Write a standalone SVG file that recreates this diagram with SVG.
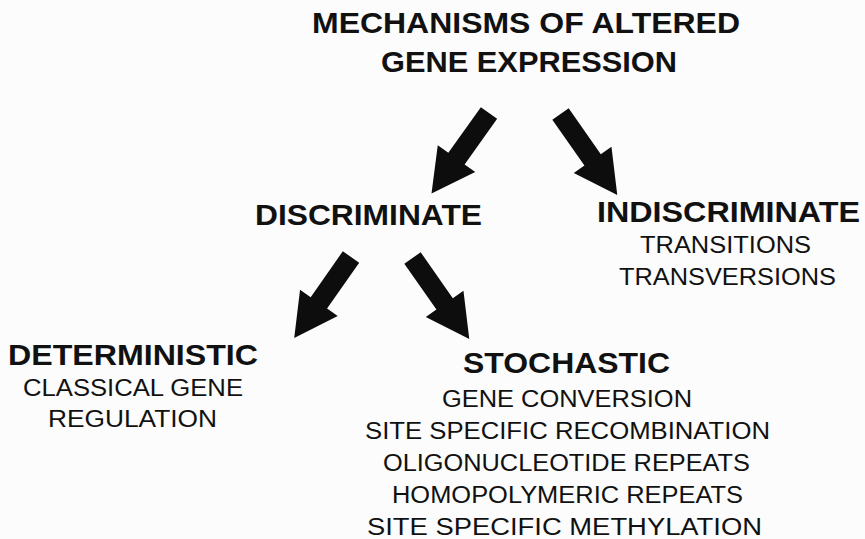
<svg xmlns="http://www.w3.org/2000/svg" xmlns:xlink="http://www.w3.org/1999/xlink" width="865" height="539" viewBox="0 0 865 539">
  <style>
    .h { font-family: "Liberation Sans", Arial, Helvetica, sans-serif; font-weight: bold; font-size: 30px; fill: #111; }
    .t { font-family: "Liberation Sans", Arial, Helvetica, sans-serif; font-size: 23.5px; fill: #111; }
    .arrow { fill: #0d0d0d; }
  </style>
  <defs>
    <!-- block arrow pointing along +x, origin at the middle of the shaft tail -->
    <path id="blockArrow" d="M0,-10 L56,-10 L56,-23 L99,0 L56,23 L56,10 L0,10 Z"/>
  </defs>
  <rect width="865" height="539" fill="#fcfcfc"/>

  <g id="title">
    <text class="h" x="312" y="33" textLength="428" lengthAdjust="spacingAndGlyphs">MECHANISMS OF ALTERED</text>
    <text class="h" x="381" y="72" textLength="296" lengthAdjust="spacingAndGlyphs">GENE EXPRESSION</text>
  </g>

  <g id="discriminate">
    <text class="h" x="255" y="225" textLength="227" lengthAdjust="spacingAndGlyphs">DISCRIMINATE</text>
  </g>

  <g id="indiscriminate">
    <text class="h" x="597" y="222" textLength="263" lengthAdjust="spacingAndGlyphs">INDISCRIMINATE</text>
    <text class="t" x="640" y="253" textLength="171" lengthAdjust="spacingAndGlyphs">TRANSITIONS</text>
    <text class="t" x="619" y="285" textLength="217" lengthAdjust="spacingAndGlyphs">TRANSVERSIONS</text>
  </g>

  <g id="deterministic">
    <text class="h" x="8" y="365" textLength="250" lengthAdjust="spacingAndGlyphs">DETERMINISTIC</text>
    <text class="t" x="23" y="396" textLength="220" lengthAdjust="spacingAndGlyphs">CLASSICAL GENE</text>
    <text class="t" x="48" y="427" textLength="169" lengthAdjust="spacingAndGlyphs">REGULATION</text>
  </g>

  <g id="stochastic">
    <text class="h" x="463" y="373" textLength="207" lengthAdjust="spacingAndGlyphs">STOCHASTIC</text>
    <text class="t" x="442" y="407" textLength="250" lengthAdjust="spacingAndGlyphs">GENE CONVERSION</text>
    <text class="t" x="365" y="439" textLength="405" lengthAdjust="spacingAndGlyphs">SITE SPECIFIC RECOMBINATION</text>
    <text class="t" x="383" y="471" textLength="367" lengthAdjust="spacingAndGlyphs">OLIGONUCLEOTIDE REPEATS</text>
    <text class="t" x="392" y="503" textLength="351" lengthAdjust="spacingAndGlyphs">HOMOPOLYMERIC REPEATS</text>
    <text class="t" x="367" y="535" textLength="395" lengthAdjust="spacingAndGlyphs">SITE SPECIFIC METHYLATION</text>
  </g>

  <g id="connectors" class="arrow">
    <use xlink:href="#blockArrow" href="#blockArrow" transform="translate(489,113) rotate(125.5)"/>
    <use xlink:href="#blockArrow" href="#blockArrow" transform="translate(560.5,114) rotate(55)"/>
    <use xlink:href="#blockArrow" href="#blockArrow" transform="translate(351,257) rotate(125)"/>
    <use xlink:href="#blockArrow" href="#blockArrow" transform="translate(412.5,258) rotate(55)"/>
  </g>
</svg>
